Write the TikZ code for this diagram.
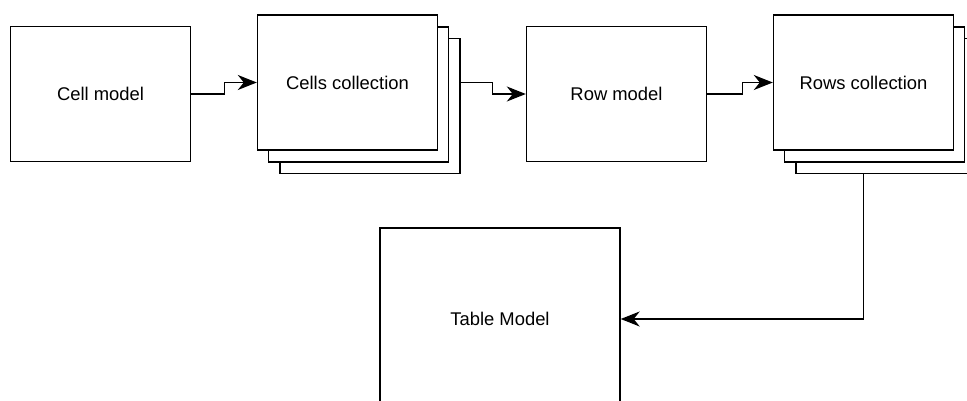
\documentclass[tikz,border=0pt]{standalone}
\usepackage{fontspec}
\setmainfont{Liberation Sans}
\usetikzlibrary{arrows.meta}
\begin{document}
\begin{tikzpicture}[x=1pt,y=-1pt,
  box/.style={draw=black, fill=white, line width=1.4pt, inner sep=0pt,
    minimum width=180pt, minimum height=135pt,
    font=\fontsize{18.4}{22}\selectfont},
  flow/.style={draw=black, line width=1.4pt,
    -{Stealth[length=19pt,width=15pt,inset=6pt]}}]
\useasboundingbox (0,0) rectangle (967,401);
\clip (0,0) rectangle (967,401);

% first model
\node[box] (cell) at (100.5,94) {Cell model};

% stacked collection of cells
\node[box] (cellsC) at (370,106) {};
\node[box] (cellsB) at (358.5,94.5) {};
\node[box] (cells) at (347.5,82.5) {Cells collection};

% row model
\node[box] (row) at (616.5,94) {Row model};

% stacked collection of rows
\node[box] (rowsC) at (886,106) {};
\node[box] (rowsB) at (874.5,94.5) {};
\node[box] (rows) at (863.5,82.5) {Rows collection};

% table model
\node[box, minimum width=240pt, minimum height=182pt] (table) at (500,319) {Table Model};

% connectors
\draw[flow] (cell.east) -- ++(33,0) |- (cells.west);
\draw[flow] (cells.center -| cellsC.east) -- ++(32,0) |- (row.west);
\draw[flow] (row.east) -- ++(35,0) |- (rows.west);
\draw[flow] (rows.center |- rowsC.south) |- (table.east);
\end{tikzpicture}
\end{document}
